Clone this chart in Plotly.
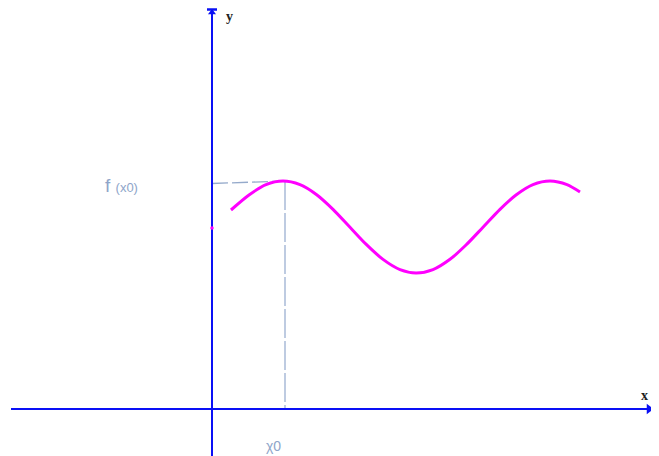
import plotly.graph_objects as go

# Curve sample points (origin at axes crossing, px units)
curve_x = [19, 37, 54, 71, 88, 104, 121, 138, 154, 171, 188, 204,
           221, 238, 254, 271, 288, 304, 321, 338, 355, 368]
curve_y = [199, 214, 224.4, 228, 224.4, 214.8, 199.7, 181.7, 164.8, 149.6, 139.4, 136,
           139.4, 149.7, 164, 181.8, 199.7, 214, 224.4, 228, 224.4, 217]

x0 = 73          # position of x0 on x axis
fx0 = 228        # value f(x0)
fx0_left = 225.5 # dashed line start height at y axis
y_dot = 181      # small mark on y axis

# page has an 8px body margin, so ranges are offset to keep marks in place
x_axis_range = [-204, 455]
y_axis_range = [-55, 401]

fig = go.Figure()

# dashed guide lines
fig.add_trace(go.Scatter(x=[0, x0], y=[fx0_left, fx0], mode="lines",
                         line=dict(color="#95aacb", width=1.3, dash="16px,4px"),
                         hoverinfo="skip", showlegend=False))
fig.add_trace(go.Scatter(x=[x0, x0], y=[fx0, 0], mode="lines",
                         line=dict(color="#aebfda", width=1.6, dash="29px,3px"),
                         hoverinfo="skip", showlegend=False))

# axes
fig.add_trace(go.Scatter(x=[-201, 436], y=[0, 0], mode="lines",
                         line=dict(color="#0a10f5", width=2), showlegend=False, hoverinfo="skip"))
fig.add_trace(go.Scatter(x=[0, 0], y=[-55, 399], mode="lines",
                         line=dict(color="#0a10f5", width=2), showlegend=False, hoverinfo="skip"))
# arrowheads
fig.add_trace(go.Scatter(x=[437], y=[0], mode="markers",
                         marker=dict(symbol="triangle-right", size=9, color="#0a10f5"),
                         showlegend=False, hoverinfo="skip", cliponaxis=False))
fig.add_trace(go.Scatter(x=[-5, 5], y=[399.5, 399.5], mode="lines",
                         line=dict(color="#0a10f5", width=2.5), showlegend=False, hoverinfo="skip",
                         cliponaxis=False))
fig.add_trace(go.Scatter(x=[0], y=[396.5], mode="markers",
                         marker=dict(symbol="triangle-up", size=7, color="#0a10f5"),
                         showlegend=False, hoverinfo="skip", cliponaxis=False))

# curve
fig.add_trace(go.Scatter(x=curve_x, y=curve_y, mode="lines",
                         line=dict(color="#ff00ff", width=3, shape="spline", smoothing=0.8),
                         showlegend=False, hoverinfo="skip"))
# small mark on y axis
fig.add_trace(go.Scatter(x=[0], y=[y_dot], mode="markers",
                         marker=dict(symbol="circle", size=3.5, color="#ff00ff"),
                         showlegend=False, hoverinfo="skip"))

fig.add_annotation(x=-91, y=224, text="f <span style='font-size:13px'>(x0)</span>",
                   showarrow=False, font=dict(size=19, color="#8ea5c9", family="Liberation Sans"))
fig.add_annotation(x=61, y=-37, text="χ0", showarrow=False,
                   font=dict(size=14, color="#8ea5c9", family="Liberation Sans"))
fig.add_annotation(x=17, y=393, text="<b>y</b>", showarrow=False,
                   font=dict(size=14, color="#222222", family="Liberation Serif"))
fig.add_annotation(x=432, y=14, text="<b>x</b>", showarrow=False,
                   font=dict(size=14, color="#222222", family="Liberation Serif"))

fig.update_layout(
    width=659, height=456,
    margin=dict(l=0, r=0, t=0, b=0),
    paper_bgcolor="white", plot_bgcolor="white",
    xaxis=dict(range=x_axis_range, visible=False, fixedrange=True),
    yaxis=dict(range=y_axis_range, visible=False, fixedrange=True),
)

fig.write_html("out.html")
